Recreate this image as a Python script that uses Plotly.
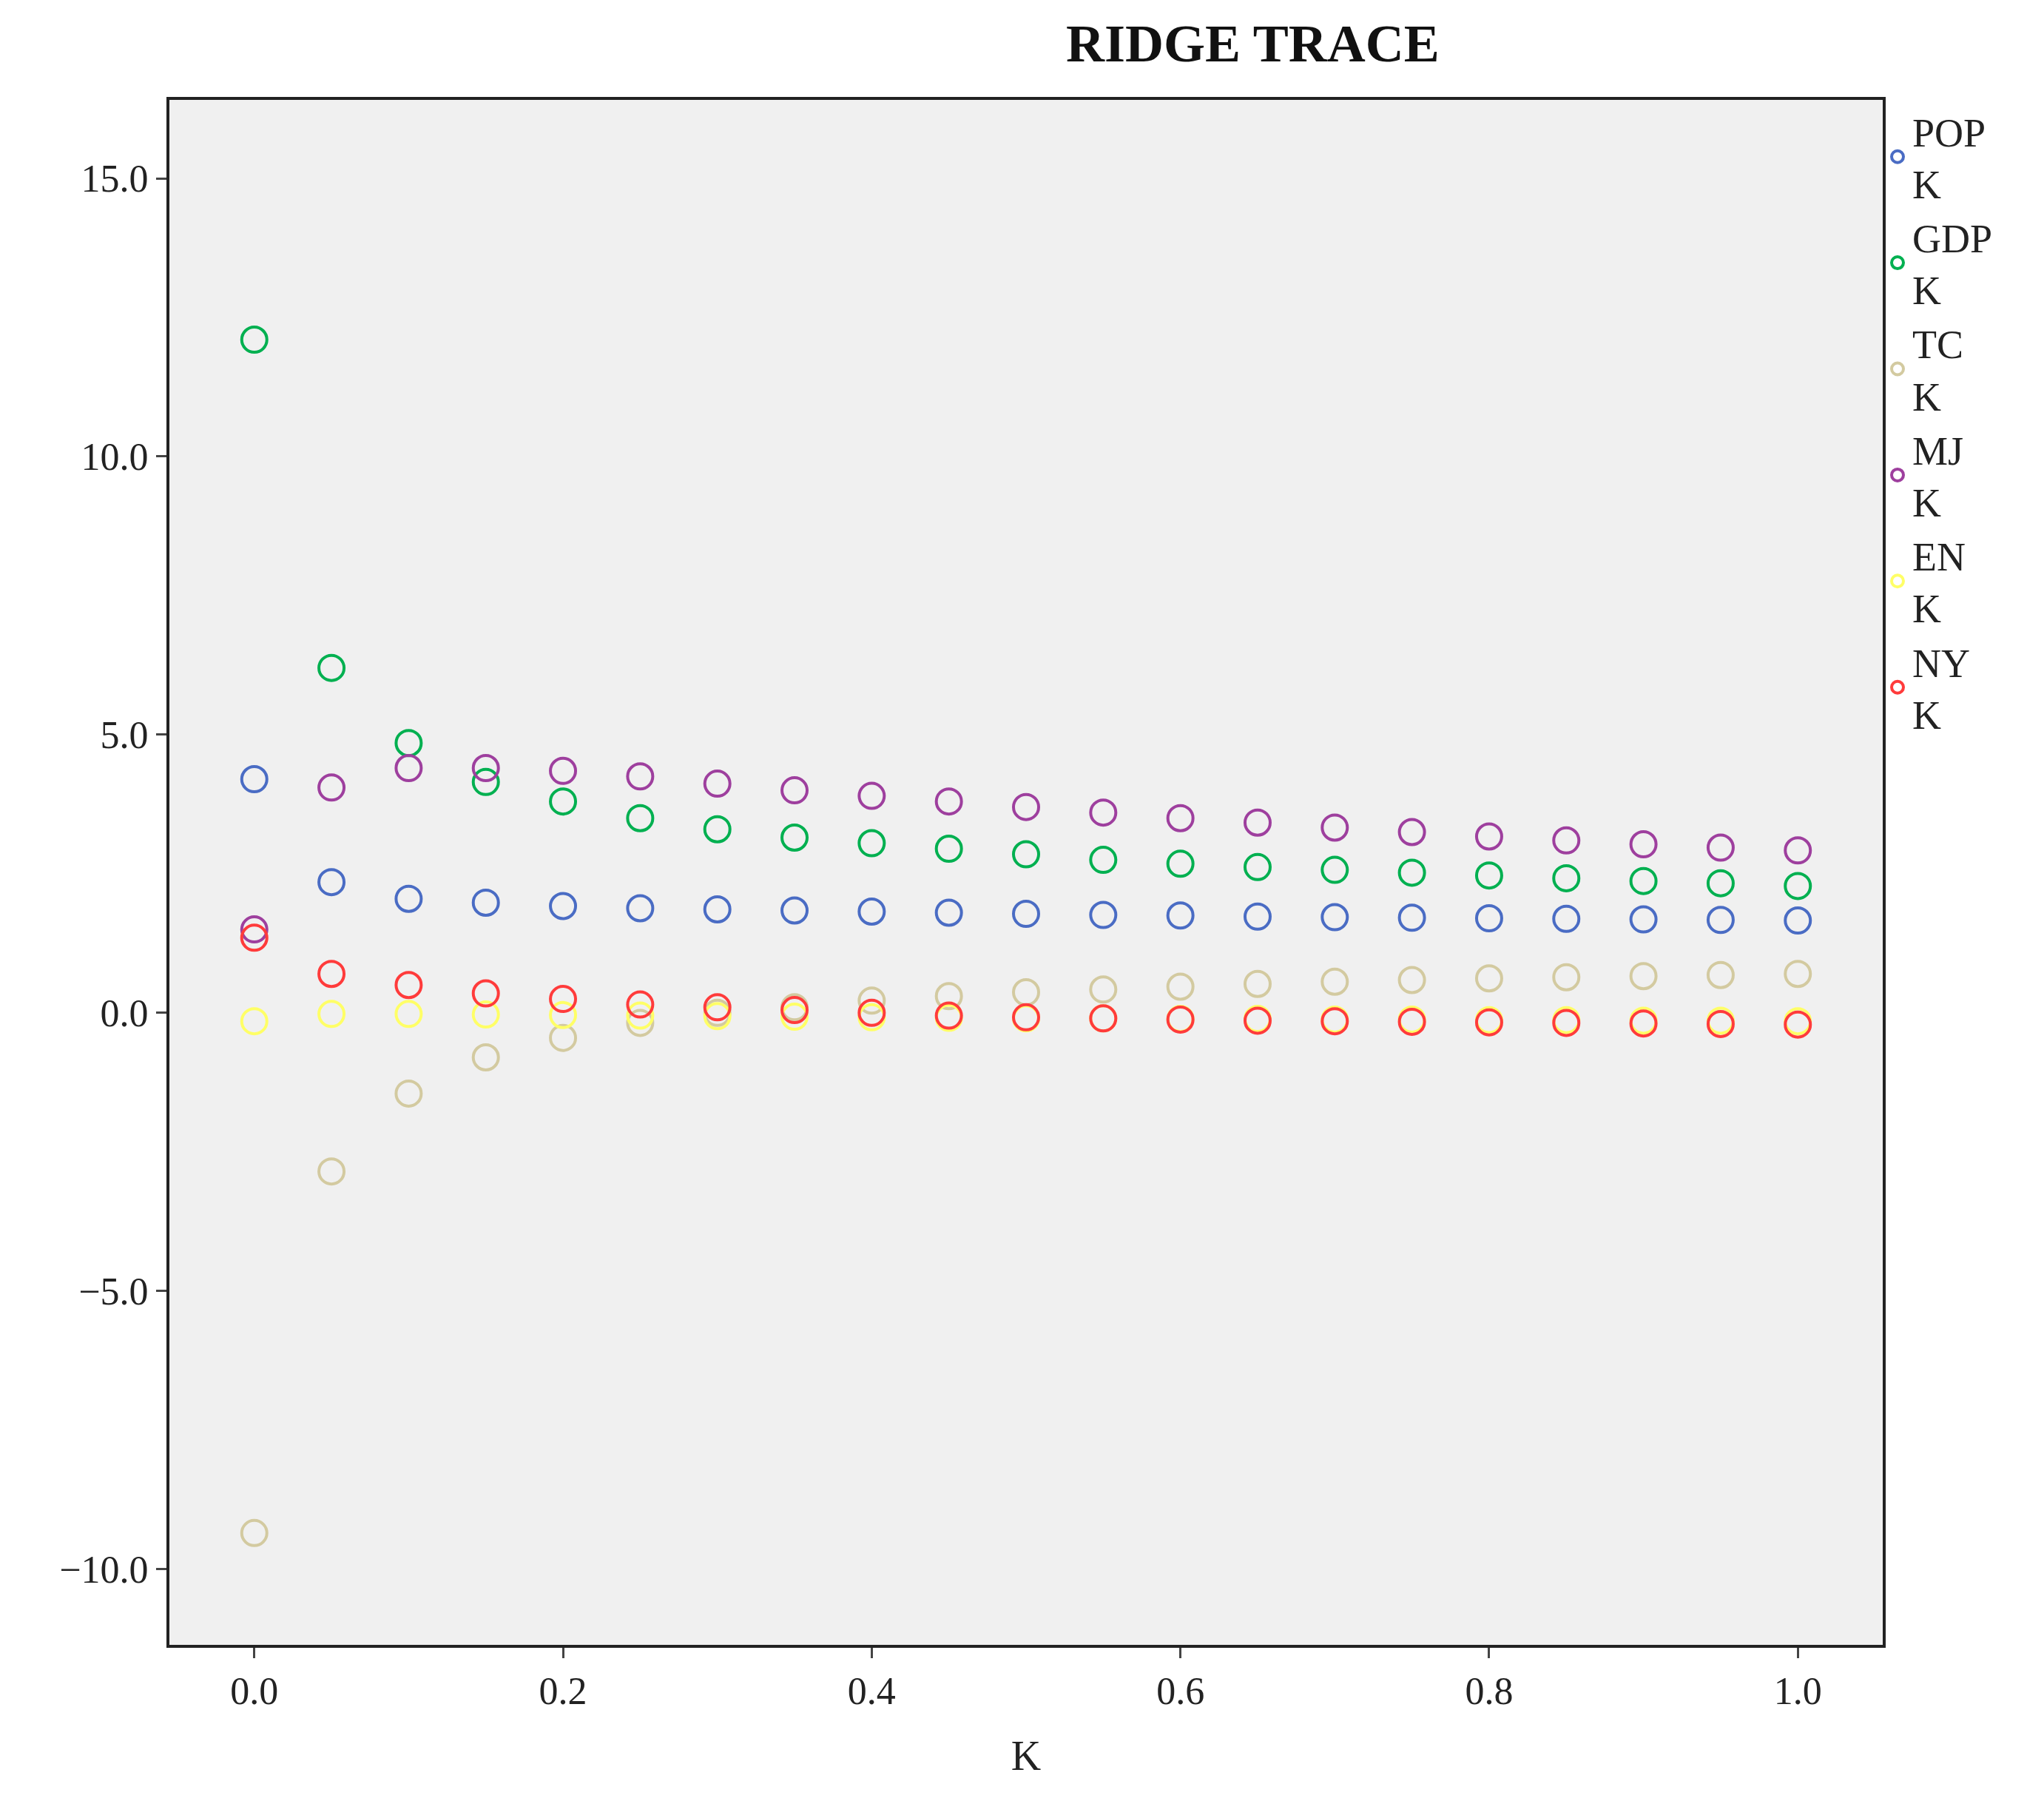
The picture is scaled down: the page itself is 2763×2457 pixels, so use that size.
import plotly.graph_objects as go

K = [round(i*0.05, 2) for i in range(21)]
POP = [4.2, 2.35, 2.05, 1.98, 1.92, 1.88, 1.86, 1.84, 1.82, 1.80, 1.78, 1.76, 1.75, 1.73, 1.72, 1.71, 1.70, 1.69, 1.68, 1.67, 1.66]
GDP = [12.1, 6.2, 4.85, 4.15, 3.8, 3.5, 3.3, 3.15, 3.05, 2.95, 2.85, 2.75, 2.68, 2.62, 2.57, 2.52, 2.47, 2.42, 2.37, 2.33, 2.28]
TC = [-9.35, -2.85, -1.45, -0.8, -0.45, -0.18, 0.0, 0.1, 0.22, 0.3, 0.37, 0.42, 0.47, 0.52, 0.56, 0.59, 0.62, 0.64, 0.66, 0.68, 0.7]
MJ = [1.5, 4.05, 4.4, 4.4, 4.35, 4.25, 4.12, 4.0, 3.9, 3.8, 3.7, 3.6, 3.5, 3.42, 3.33, 3.25, 3.17, 3.1, 3.03, 2.97, 2.92]
EN = [-0.15, -0.02, -0.02, -0.03, -0.04, -0.05, -0.06, -0.07, -0.08, -0.09, -0.1, -0.1, -0.11, -0.11, -0.12, -0.12, -0.13, -0.13, -0.14, -0.14, -0.15]
NY = [1.35, 0.7, 0.5, 0.35, 0.25, 0.15, 0.1, 0.05, 0.0, -0.05, -0.08, -0.1, -0.12, -0.14, -0.15, -0.16, -0.17, -0.18, -0.19, -0.2, -0.21]

series = [("POP", POP, "#4a6cc4"), ("GDP", GDP, "#00b050"), ("TC", TC, "#d3caa0"),
          ("MJ", MJ, "#9e3f9e"), ("EN", EN, "#ffff66"), ("NY", NY, "#ff3b3b")]

fig = go.Figure()
for name, vals, col in series:
    fig.add_trace(go.Scatter(x=K, y=vals, mode="markers", name=name + "<br>K",
                             marker=dict(symbol="circle-open", size=34, color=col,
                                         line=dict(width=4, color=col))))

font = "Liberation Serif, Times New Roman, serif"
fig.update_layout(
    width=2763, height=2457, paper_bgcolor="white", plot_bgcolor="#f0f0f0",
    font=dict(family=font, size=52, color="#222"),
    title=dict(text="<b>RIDGE TRACE</b>", x=0.61, xanchor="center", y=0.99, yanchor="top",
               font=dict(size=72, color="#111")),
    margin=dict(l=221, r=226, t=127, b=242),
    showlegend=True,
    legend=dict(x=1.0, xanchor="left", y=1.0, yanchor="top", bgcolor="rgba(0,0,0,0)",
                font=dict(size=54), itemsizing="trace", tracegroupgap=0),
    xaxis=dict(range=[-0.055, 1.055], tickvals=[0, 0.2, 0.4, 0.6, 0.8, 1.0],
               tickformat=".1f", ticks="outside", ticklen=14, tickwidth=3,
               showgrid=False, zeroline=False, showline=True, linecolor="#222",
               linewidth=4, mirror=True, title=dict(text="K", font=dict(size=56), standoff=40)),
    yaxis=dict(range=[-11.36, 16.41], tickvals=[-10, -5, 0, 5, 10, 15],
               tickformat=".1f", ticks="outside", ticklen=14, tickwidth=3,
               showgrid=False, zeroline=False, showline=True, linecolor="#222",
               linewidth=4, mirror=True),
)
fig.write_html("out.html")
